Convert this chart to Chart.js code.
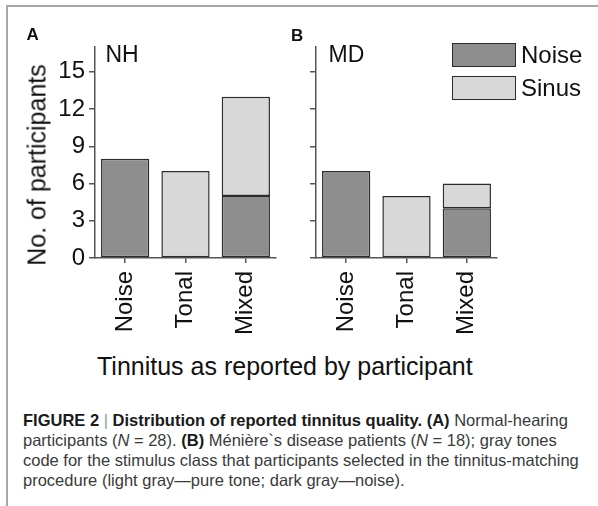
<!DOCTYPE html>
<html>
<head>
<meta charset="utf-8">
<script src="https://cdn.jsdelivr.net/npm/chart.js@4.4.1/dist/chart.umd.min.js"></script>
<style>
  html, body { margin: 0; padding: 0; background: #fff; }
  body { width: 598px; height: 506px; position: relative; overflow: hidden;
         font-family: "Liberation Sans", Arial, Helvetica, sans-serif; }
  .frame { position: absolute; left: 6px; top: 5px; width: 620px; height: 540px;
           border-top: 2px solid #a8a8a8; border-left: 2px solid #a8a8a8; }
  canvas { position: absolute; top: 0; }
  .t { position: absolute; white-space: nowrap; color: #111; line-height: 1; }
  .panel { font-weight: bold; font-size: 17px; }
  .group { font-size: 23px; }
  .ytitle { font-size: 25px; transform: translate(-50%, -50%) rotate(-90deg); }
  .xtitle { font-size: 25px; }
  .leg-box { position: absolute; width: 64px; height: 24px; box-sizing: border-box;
             border: 1.5px solid #2b2b2b; }
  .leg-text { font-size: 24px; }
  .cap { font-size: 16.5px; color: #3a3a3a; }
  .cap b { color: #1a1a1a; }
  .cap .bar { color: #999; font-weight: normal; }
</style>
</head>
<body>
<div class="frame"></div>
<canvas id="panelA" width="290" height="340" style="left:0px"></canvas>
<canvas id="panelB" width="290" height="340" style="left:221px"></canvas>

<div class="t panel" style="left:26.5px; top:25.6px">A</div>
<div class="t panel" style="left:291px; top:26.6px">B</div>
<div class="t group" style="left:105.5px; top:42.5px">NH</div>
<div class="t group" style="left:328.5px; top:42.5px">MD</div>
<div class="t ytitle" style="left:37.3px; top:164.5px">No. of participants</div>
<div class="t xtitle" style="left:97px; top:353.8px">Tinnitus as reported by participant</div>
<div id="legend"></div>

<div class="t cap" style="left:23px; top:412px"><b>FIGURE 2 <span class="bar">|</span> Distribution of reported tinnitus quality. (A)</b> Normal-hearing</div>
<div class="t cap" style="left:23px; top:432px">participants (<i>N</i> = 28). <b>(B)</b> Ménière`s disease patients (<i>N</i> = 18); gray tones</div>
<div class="t cap" style="left:23px; top:452px">code for the stimulus class that participants selected in the tinnitus-matching</div>
<div class="t cap" style="left:23px; top:472px">procedure (light gray—pure tone; dark gray—noise).</div>

<script>
// Reported tinnitus quality per group, split by the stimulus class chosen in matching
const categories = ['Noise', 'Tonal', 'Mixed'];
const seriesNames = ['Noise', 'Sinus'];
const nhNoise = [8, null, 5];   // normal-hearing, noise-matched
const nhSinus = [null, 7, 8];   // normal-hearing, pure-tone-matched
const mdNoise = [7, null, 4];   // Ménière's disease, noise-matched
const mdSinus = [null, 5, 2];   // Ménière's disease, pure-tone-matched
const yTicks = [0, 3, 6, 9, 12, 15];
const yMax = 17;

const darkGray = '#8e8e8e';
const lightGray = '#d8d8d8';
const edge = '#2b2b2b';
const axisColor = '#555';

Chart.defaults.font.family = '"Liberation Sans", Arial, Helvetica, sans-serif';
Chart.defaults.font.size = 24;
Chart.defaults.color = '#111';

function makePanel(id, noiseVals, sinusVals, showYLabels) {
  const ds = (label, data, color) => ({
    label, data, backgroundColor: color, borderColor: edge,
    borderWidth: 1.5, borderSkipped: false,
    barPercentage: 0.8, categoryPercentage: 1.0
  });
  return new Chart(document.getElementById(id), {
    type: 'bar',
    data: {
      labels: categories,
      datasets: [ds(seriesNames[0], noiseVals, darkGray), ds(seriesNames[1], sinusVals, lightGray)]
    },
    options: {
      responsive: false,
      animation: false,
      devicePixelRatio: 1,
      layout: { padding: { top: 47, right: 14, left: 0, bottom: 0 } },
      plugins: { legend: { display: false }, tooltip: { enabled: false } },
      scales: {
        x: {
          stacked: true,
          offset: true,
          grid: { offset: false, drawOnChartArea: false, drawTicks: true, tickLength: 5, tickColor: axisColor, lineWidth: 1.5 },
          border: { display: true, color: axisColor, width: 1.5 },
          ticks: { minRotation: 90, maxRotation: 90, autoSkip: false, padding: 8, color: '#111' },
          afterFit: s => { s.height = 82; }
        },
        y: {
          stacked: true,
          min: 0,
          max: yMax,
          grid: { drawOnChartArea: false, drawTicks: true, tickLength: 6, tickColor: axisColor, lineWidth: 1.5 },
          border: { display: true, color: axisColor, width: 1.5 },
          ticks: { display: showYLabels, padding: 4, color: '#111' },
          afterBuildTicks: s => { s.ticks = yTicks.map(v => ({ value: v })); },
          afterFit: s => { s.width = 95; }
        }
      }
    }
  });
}

const chartA = makePanel('panelA', nhNoise, nhSinus, true);
const chartB = makePanel('panelB', mdNoise, mdSinus, false);

// Legend built from panel B's datasets
const legend = document.getElementById('legend');
chartB.data.datasets.forEach((d, i) => {
  const top = 43 + i * 33;
  const box = document.createElement('div');
  box.className = 'leg-box';
  box.style.left = '452px';
  box.style.top = top + 'px';
  box.style.background = d.backgroundColor;
  box.style.borderColor = d.borderColor;
  legend.appendChild(box);
  const txt = document.createElement('div');
  txt.className = 't leg-text';
  txt.style.left = '521px';
  txt.style.top = (top + 20 - 20.3) + 'px';
  txt.textContent = d.label;
  legend.appendChild(txt);
});
</script>
</body>
</html>
